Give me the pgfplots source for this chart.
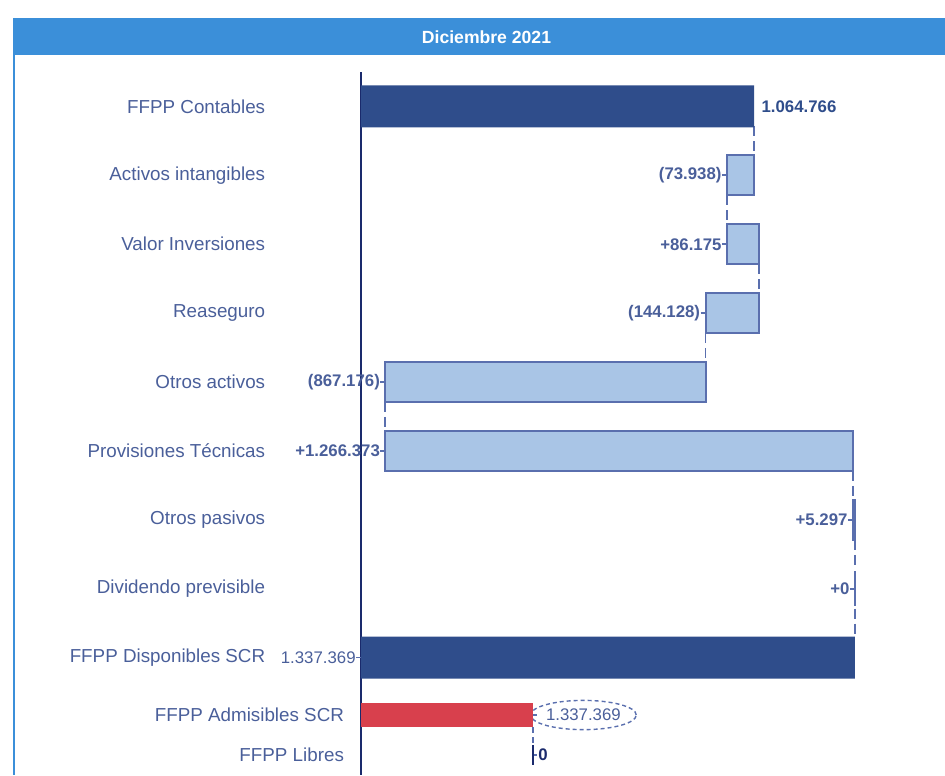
\documentclass[border=0pt]{standalone}
\usepackage{pgfplots}
\pgfplotsset{compat=1.18}
\usepackage{fontspec}
\setmainfont{Liberation Sans}
\usetikzlibrary{shapes.geometric}
\definecolor{txt}{HTML}{4A5F9A}
\definecolor{dark}{HTML}{2F4D8B}
\definecolor{light}{HTML}{A9C5E6}
\definecolor{edge}{HTML}{5A6FAE}
\definecolor{band}{HTML}{3B8FD9}
\definecolor{axisc}{HTML}{1A2A6C}
\definecolor{redbar}{HTML}{D8404D}
\newcommand{\catfont}{\fontsize{9.4}{11}\selectfont}
\newcommand{\valfont}{\bfseries\fontsize{8.4}{10}\selectfont}
\newcommand{\valfontn}{\fontsize{8.4}{10}\selectfont}
\tikzset{
  conn/.style={edge, line width=0.9pt, dash pattern=on 5pt off 2.5pt},
  lead/.style={edge, line width=0.9pt},
  vl/.style={anchor=east, text=txt, font=\valfont, inner sep=0pt, xshift=-2.5pt},
}
\begin{document}
\begin{tikzpicture}
\path[use as bounding box] (0,0) rectangle (472.5pt,-387.5pt);
\fill[band] (7.5pt,-9pt) rectangle (472.5pt,-27.5pt);
\draw[band, line width=1pt] (7pt,-9pt) -- (7pt,-387.5pt);
\node[text=white, font=\bfseries\fontsize{8.8}{10}\selectfont] at (243.25pt,-18.5pt) {Diciembre 2021};

\begin{axis}[
  at={(180.5pt,-346pt)}, anchor=south west,
  scale only axis, width=258.5pt, height=310pt,
  xmin=0, xmax=1400000, ymin=0.5, ymax=9.5, y dir=reverse,
  xbar stacked, bar width=20pt,
  axis x line=none, axis y line*=left,
  y axis line style={-, axisc, line width=0.9pt},
  ytick={1,...,9},
  yticklabels={FFPP Contables, Activos intangibles, Valor Inversiones, Reaseguro, Otros activos, Provisiones Técnicas, Otros pasivos, Dividendo previsible, FFPP Disponibles SCR},
  major tick length=0pt,
  yticklabel style={font=\catfont, text=txt, xshift=-44.4pt},
  clip=false,
]
\addplot[draw=none, fill=none] coordinates {(0,1) (990828,2) (990828,3) (932875,4) (65699,5) (65699,6) (1332072,7) (1337369,8) (0,9)};
\addplot[fill=dark, draw=none, bar width=21pt] coordinates {(1064766,1) (0,2) (0,3) (0,4) (0,5) (0,6) (0,7) (0,8) (1337369,9)};
\addplot[fill=light, draw=edge, line width=1pt] coordinates {(0,1) (73938,2) (86175,3) (144128,4) (867176,5) (1266373,6) (5297,7) (0,8) (0,9)};
\draw[conn] (axis cs:1064766,1.29) -- (axis cs:1064766,1.71);
\draw[conn] (axis cs:990828,2.29) -- (axis cs:990828,2.71);
\draw[conn] (axis cs:1077003,3.29) -- (axis cs:1077003,3.71);
\draw[conn] (axis cs:932875,4.29) -- (axis cs:932875,4.71);
\draw[conn] (axis cs:65699,5.29) -- (axis cs:65699,5.71);
\draw[conn] (axis cs:1332072,6.29) -- (axis cs:1332072,6.71);
\draw[conn] (axis cs:1337369,7.29) -- (axis cs:1337369,7.71);
\draw[conn] (axis cs:1337369,8.29) -- (axis cs:1337369,8.7);
\draw[edge, line width=1.3pt] (axis cs:1337369,7.75) -- (axis cs:1337369,8.25);
\node[anchor=west, text=dark, font=\valfont, inner sep=0pt, xshift=3.5pt] at (axis cs:1064766,1) {1.064.766};
\node[vl] at (axis cs:990828,2) {(73.938)};
\node[vl] at (axis cs:990828,3) {+86.175};
\node[vl] at (axis cs:932875,4) {(144.128)};
\node[vl] at (axis cs:65699,5) {(867.176)};
\node[vl] at (axis cs:65699,6) {+1.266.373};
\node[vl] at (axis cs:1332072,7) {+5.297};
\node[vl] at (axis cs:1337369,8) {+0};
\node[vl, font=\valfontn] at (axis cs:0,9) {1.337.369};
\draw[lead] ([xshift=-2.5pt]axis cs:990828,2) -- ++(7pt,0pt);
\draw[lead] ([xshift=-2.5pt]axis cs:990828,3) -- ++(7pt,0pt);
\draw[lead] ([xshift=-2.5pt]axis cs:932875,4) -- ++(7pt,0pt);
\draw[lead] ([xshift=-2.5pt]axis cs:65699,5) -- ++(7pt,0pt);
\draw[lead] ([xshift=-2.5pt]axis cs:65699,6) -- ++(7pt,0pt);
\draw[lead] ([xshift=-2.5pt]axis cs:1332072,7) -- ++(2.5pt,0pt);
\draw[lead] ([xshift=-2.5pt]axis cs:1337369,8) -- ++(2.5pt,0pt);
\draw[lead] ([xshift=-2.5pt]axis cs:0,9) -- ++(2.5pt,0pt);
\end{axis}

\begin{axis}[
  at={(180.5pt,-387.5pt)}, anchor=south west,
  scale only axis, width=128.5pt, height=41.5pt,
  xmin=0, xmax=2000000, ymin=0.425, ymax=2.5, y dir=reverse,
  xbar stacked, bar width=12pt,
  axis x line=none, axis y line*=left,
  y axis line style={-, axisc, line width=0.9pt},
  ytick={1,2},
  yticklabels={FFPP Admisibles SCR, FFPP Libres},
  major tick length=0pt,
  yticklabel style={font=\catfont, text=txt, xshift=-5pt},
  clip=false,
]
\addplot[draw=none, fill=none] coordinates {(0,1) (1337369,2)};
\addplot[fill=redbar, draw=none] coordinates {(1337369,1) (0,2)};
\addplot[fill=light, draw=edge, line width=0.9pt, bar width=10pt] coordinates {(0,1) (0,2)};
\draw[edge, line width=0.9pt, dash pattern=on 3pt off 2pt] (axis cs:1337369,1.3) -- (axis cs:1337369,1.74);
\draw[axisc, line width=0.9pt] (axis cs:1337369,1.75) -- (axis cs:1337369,2.25);
\node[anchor=west, ellipse, draw=edge, dash pattern=on 2pt off 1.5pt, line width=0.7pt, text=txt, font=\valfontn, inner xsep=0pt, inner ysep=2.2pt, xshift=-1.5pt] at (axis cs:1337369,1) {1.337.369};
\draw[lead] ([xshift=-2pt]axis cs:1337369,1) -- ++(4pt,0pt);
\draw[lead] (axis cs:1337369,2) -- ++(2pt,0pt);
\node[anchor=west, text=axisc, font=\valfont, inner sep=0pt, xshift=2.5pt] at (axis cs:1337369,2) {0};
\end{axis}
\end{tikzpicture}
\end{document}
